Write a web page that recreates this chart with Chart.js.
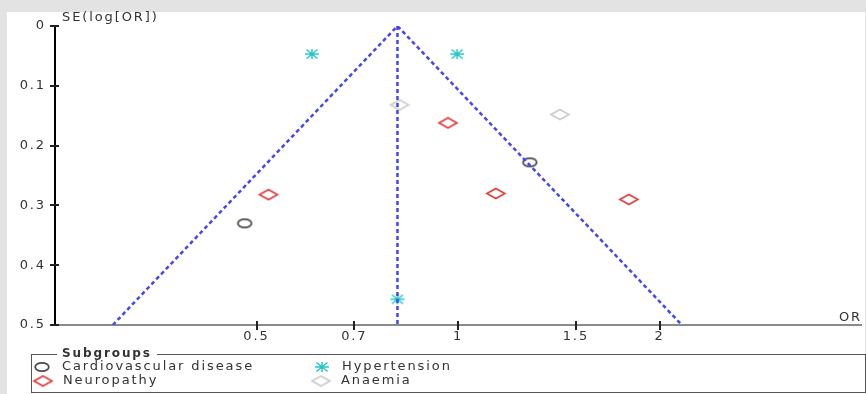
<!DOCTYPE html>
<html>
<head>
<meta charset="utf-8">
<script src="https://cdn.jsdelivr.net/npm/chart.js@4"></script>
<style>
  html, body { margin: 0; padding: 0; background: #e3e3e3; }
  #wrap { width: 866px; height: 394px; position: relative; }
</style>
</head>
<body>
<div id="wrap"><canvas id="funnel"></canvas></div>
<script>
// Study estimates (OR on log axis, SE of log OR)
const cvdOR = [1.28, 0.48];
const cvdSE = [0.228, 0.33];
const htnOR = [0.605, 0.997, 0.812];
const htnSE = [0.047, 0.047, 0.457];
const neuroOR = [0.966, 0.521, 1.139, 1.80];
const neuroSE = [0.162, 0.282, 0.28, 0.29];
const anaemiaOR = [0.818, 1.42];
const anaemiaSE = [0.132, 0.148];

// Funnel outline (pseudo 95% limits) and pooled estimate
const funnelOR = [0.305, 0.812, 2.16];
const funnelSE = [0.5, 0, 0.5];
const pooledOR = [0.812, 0.812];
const pooledSE = [0, 0.5];

const xTicks = [0.5, 0.7, 1, 1.5, 2];
const yTicks = [0, 0.1, 0.2, 0.3, 0.4, 0.5];

const pts = (xs, ys) => xs.map((x, i) => ({ x: x, y: ys[i] }));

// marker images (slightly wide, like the original)
function marker(kind, color) {
  const c = document.createElement('canvas');
  const ctx = c.getContext('2d');
  if (kind === 'circle') {
    c.width = 18; c.height = 12;
    ctx.strokeStyle = color;
    ctx.lineWidth = 1.8;
    ctx.beginPath();
    ctx.ellipse(9, 6, 6.8, 4.2, 0, 0, Math.PI * 2);
    ctx.stroke();
  } else if (kind === 'diamond') {
    c.width = 22; c.height = 13;
    ctx.strokeStyle = color;
    ctx.lineWidth = 1.6;
    ctx.beginPath();
    ctx.moveTo(2, 6.5); ctx.lineTo(11, 1.5); ctx.lineTo(20, 6.5); ctx.lineTo(11, 11.5);
    ctx.closePath();
    ctx.stroke();
  } else {
    c.width = 18; c.height = 12;
    ctx.strokeStyle = color;
    ctx.lineWidth = 1.5;
    ctx.beginPath();
    ctx.moveTo(2, 6); ctx.lineTo(16, 6);
    ctx.moveTo(9, 1); ctx.lineTo(9, 11);
    ctx.moveTo(3.5, 1.5); ctx.lineTo(14.5, 10.5);
    ctx.moveTo(3.5, 10.5); ctx.lineTo(14.5, 1.5);
    ctx.stroke();
  }
  return c;
}

const mkCvd = marker('circle', '#4a4a4a');
const mkHtn = marker('star', '#26c6c6');
const mkNeuro = marker('diamond', '#e03a3a');
const mkAnaemia = marker('diamond', '#c9cdc9');

const FONT = '"DejaVu Sans", sans-serif';
const SPACING = '1.9px';

const panelPlugin = {
  id: 'panel',
  beforeDraw(chart) {
    const ctx = chart.ctx;
    ctx.save();
    ctx.fillStyle = '#e3e3e3';
    ctx.fillRect(0, 0, chart.width, chart.height);
    ctx.fillStyle = '#ffffff';
    ctx.fillRect(7, 12, chart.width - 8, chart.height - 12);
    ctx.restore();
    ctx.letterSpacing = SPACING;
  },
  afterDraw(chart) {
    const ctx = chart.ctx;
    const xs = chart.scales.x, ys = chart.scales.y;
    ctx.save();
    ctx.setLineDash([]);
    ctx.letterSpacing = SPACING;
    // tick marks crossing the axes
    ctx.strokeStyle = '#222';
    ctx.lineWidth = 2;
    ctx.beginPath();
    xTicks.forEach(v => {
      const px = Math.round(xs.getPixelForValue(v));
      ctx.moveTo(px, ys.bottom - 4); ctx.lineTo(px, ys.bottom + 5);
    });
    yTicks.forEach(v => {
      const py = Math.round(ys.getPixelForValue(v));
      ctx.moveTo(xs.left - 5, py); ctx.lineTo(xs.left + 4, py);
    });
    ctx.stroke();

    // axis titles
    ctx.fillStyle = '#333';
    ctx.font = '13px ' + FONT;
    ctx.textBaseline = 'middle';
    ctx.textAlign = 'left';
    ctx.fillText('SE(log[OR])', xs.left + 7, ys.top - 8);
    ctx.textAlign = 'right';
    ctx.fillText('OR', xs.right + 1, ys.bottom - 7);

    // legend box
    const bx = 31, by = 354, bw = 834, bh = 38;
    ctx.strokeStyle = '#555';
    ctx.lineWidth = 1;
    ctx.strokeRect(bx + 0.5, by + 0.5, bw, bh);
    ctx.font = 'bold 12px ' + FONT;
    ctx.textAlign = 'left';
    const tw = ctx.measureText('Subgroups').width;
    ctx.fillStyle = '#ffffff';
    ctx.fillRect(57, by - 4, tw + 10, 9);
    ctx.fillStyle = '#333';
    ctx.fillText('Subgroups', 62, by);

    ctx.font = '13px ' + FONT;
    const items = [
      { img: mkCvd, label: chart.data.datasets[2].label, x: 42, y: 367 },
      { img: mkHtn, label: chart.data.datasets[3].label, x: 322, y: 367 },
      { img: mkNeuro, label: chart.data.datasets[4].label, x: 43, y: 381 },
      { img: mkAnaemia, label: chart.data.datasets[5].label, x: 321, y: 381 }
    ];
    items.forEach(it => {
      ctx.drawImage(it.img, it.x - it.img.width / 2, it.y - it.img.height / 2);
      ctx.fillText(it.label, it.x + 20, it.y);
    });
    ctx.restore();
  }
};

new Chart(document.getElementById('funnel'), {
  type: 'scatter',
  data: {
    datasets: [
      {
        label: 'funnel',
        data: pts(funnelOR, funnelSE),
        showLine: true,
        borderColor: '#4646ec',
        borderWidth: 2.5,
        borderDash: [4, 3],
        pointRadius: 0,
        fill: false
      },
      {
        label: 'pooled',
        data: pts(pooledOR, pooledSE),
        showLine: true,
        borderColor: '#4646ec',
        borderWidth: 2.5,
        borderDash: [4, 3],
        pointRadius: 0,
        fill: false
      },
      { label: 'Cardiovascular disease', data: pts(cvdOR, cvdSE), pointStyle: mkCvd },
      { label: 'Hypertension', data: pts(htnOR, htnSE), pointStyle: mkHtn },
      { label: 'Neuropathy', data: pts(neuroOR, neuroSE), pointStyle: mkNeuro },
      { label: 'Anaemia', data: pts(anaemiaOR, anaemiaSE), pointStyle: mkAnaemia }
    ]
  },
  options: {
    responsive: true,
    maintainAspectRatio: false,
    animation: false,
    layout: { padding: { left: 0, top: 26, right: 1, bottom: 0 } },
    plugins: {
      legend: { display: false },
      tooltip: { enabled: false }
    },
    scales: {
      x: {
        type: 'logarithmic',
        min: 0.25,
        max: 4,
        afterBuildTicks: s => { s.ticks = xTicks.map(v => ({ value: v })); },
        afterFit: s => { s.height = 69; },
        grid: { display: false, tickLength: 0 },
        border: { display: true, color: '#8a8a8a', width: 2 },
        ticks: {
          autoSkip: false,
          maxRotation: 0,
          padding: 4,
          color: '#333',
          font: { family: FONT, size: 13 },
          callback: v => String(v)
        }
      },
      y: {
        reverse: true,
        min: 0,
        max: 0.5,
        afterBuildTicks: s => { s.ticks = yTicks.map(v => ({ value: v })); },
        afterFit: s => { s.width = 55; },
        grid: { display: false, tickLength: 0 },
        border: { display: true, color: '#000', width: 2 },
        ticks: {
          padding: 9,
          color: '#333',
          font: { family: FONT, size: 13 },
          callback: v => String(v)
        }
      }
    }
  },
  plugins: [panelPlugin]
});
</script>
</body>
</html>
